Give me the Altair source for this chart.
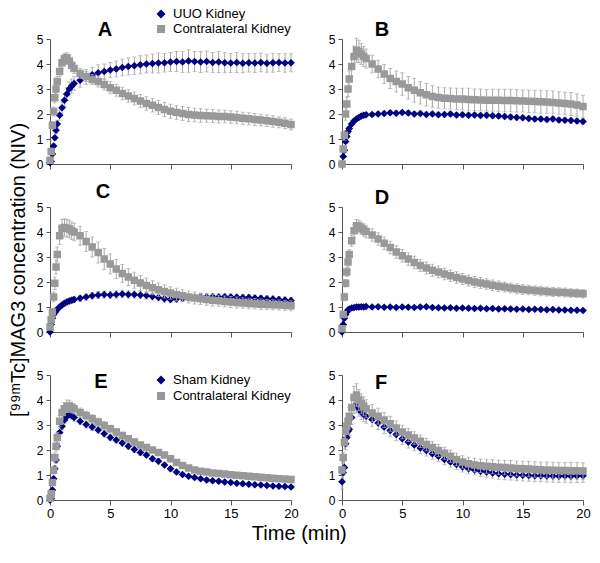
import altair as alt
import pandas as pd

# ---------------- data ----------------
TIME = [0, 0.1, 0.2, 0.3, 0.4, 0.5, 0.6, 0.8, 1.0, 1.2, 1.4, 1.6, 1.8, 2.0,
        2.5, 3.0, 3.5, 4.0, 4.5, 5.0, 5.5, 6.0, 6.5, 7.0, 7.5, 8.0, 8.5, 9.0,
        9.5, 10.0, 10.5, 11.0, 11.5, 12.0, 12.5, 13.0, 13.5, 14.0, 14.5, 15.0,
        15.5, 16.0, 16.5, 17.0, 17.5, 18.0, 18.5, 19.0, 19.5, 20.0]

A_UUO = [0.05, 0.1, 0.4, 0.72, 1.05, 1.35, 1.6, 1.95, 2.25, 2.55, 2.8, 3.0, 3.12, 3.22,
         3.35, 3.48, 3.57, 3.65, 3.7, 3.76, 3.8, 3.86, 3.9, 3.93, 3.97, 4.0, 4.02, 4.04,
         4.05, 4.08, 4.1, 4.08, 4.12, 4.1, 4.08, 4.1, 4.06, 4.08, 4.05, 4.04, 4.06, 4.03,
         4.05, 4.04, 4.06, 4.03, 4.05, 4.06, 4.04, 4.05]
A_UUO_ERR = [0.02, 0.03, 0.05, 0.08, 0.1, 0.12, 0.15, 0.2, 0.22, 0.25, 0.26, 0.28, 0.28, 0.28,
             0.28, 0.3, 0.3, 0.32, 0.3, 0.3, 0.32, 0.33, 0.34, 0.35, 0.36, 0.36, 0.38, 0.4,
             0.37, 0.38, 0.4, 0.42, 0.45, 0.4, 0.42, 0.42, 0.4, 0.42, 0.4, 0.38, 0.4, 0.38,
             0.37, 0.38, 0.37, 0.36, 0.38, 0.36, 0.37, 0.36]
A_CONTRA = [0.15, 0.5, 1.55, 2.1, 2.65, 3.0, 3.3, 3.7, 4.05, 4.22, 4.25, 4.12, 3.95, 3.82,
            3.62, 3.5, 3.38, 3.3, 3.18, 3.05, 2.95, 2.82, 2.72, 2.62, 2.52, 2.42, 2.35, 2.26,
            2.18, 2.11, 2.06, 2.02, 1.98, 1.96, 1.94, 1.93, 1.92, 1.9, 1.9, 1.88, 1.86, 1.83,
            1.81, 1.78, 1.76, 1.73, 1.7, 1.67, 1.63, 1.58]
A_CONTRA_ERR = [0.05, 0.1, 0.15, 0.18, 0.2, 0.2, 0.2, 0.2, 0.2, 0.2, 0.2, 0.2, 0.2, 0.2,
                0.2, 0.2, 0.2, 0.22, 0.22, 0.24, 0.24, 0.25, 0.25, 0.26, 0.26, 0.27, 0.27, 0.28,
                0.28, 0.28, 0.27, 0.28, 0.28, 0.27, 0.27, 0.26, 0.26, 0.26, 0.25, 0.25, 0.25, 0.24,
                0.24, 0.24, 0.23, 0.23, 0.23, 0.22, 0.22, 0.22]

B_UUO = [0.0, 0.3, 0.55, 0.9, 1.1, 1.3, 1.42, 1.6, 1.72, 1.8, 1.86, 1.92, 1.95, 1.97,
         1.98, 2.0, 2.02, 2.05, 2.03, 2.06, 2.04, 2.0, 2.02, 1.98, 2.0, 1.97, 1.98, 2.0,
         1.96, 1.97, 1.95, 1.96, 1.94, 1.95, 1.93, 1.92, 1.9, 1.88, 1.86, 1.85, 1.82, 1.8,
         1.8, 1.78, 1.8, 1.76, 1.75, 1.74, 1.72, 1.7]
B_UUO_ERR = [0.02, 0.04, 0.06, 0.08, 0.08, 0.08, 0.08, 0.08, 0.08, 0.08, 0.08, 0.08, 0.08, 0.08,
             0.08, 0.09, 0.08, 0.09, 0.1, 0.09, 0.1, 0.09, 0.1, 0.1, 0.09, 0.1, 0.1, 0.09,
             0.1, 0.1, 0.1, 0.09, 0.1, 0.1, 0.1, 0.1, 0.09, 0.1, 0.1, 0.1, 0.1, 0.1,
             0.09, 0.1, 0.1, 0.1, 0.1, 0.1, 0.1, 0.1]
B_CONTRA = [0.0, 0.6, 1.15, 2.0, 2.4, 3.0, 3.4, 3.9, 4.3, 4.55, 4.5, 4.4, 4.3, 4.22,
            4.0, 3.8, 3.6, 3.42, 3.3, 3.2, 3.05, 2.95, 2.85, 2.77, 2.7, 2.66, 2.63, 2.62,
            2.6, 2.6, 2.58, 2.57, 2.56, 2.55, 2.55, 2.55, 2.54, 2.54, 2.53, 2.52, 2.51, 2.5,
            2.49, 2.48, 2.46, 2.44, 2.42, 2.4, 2.36, 2.3]
B_CONTRA_ERR = [0.02, 0.12, 0.2, 0.25, 0.28, 0.3, 0.32, 0.38, 0.42, 0.48, 0.45, 0.42, 0.4, 0.38,
                0.35, 0.35, 0.38, 0.4, 0.42, 0.45, 0.45, 0.48, 0.45, 0.45, 0.43, 0.42, 0.42, 0.42,
                0.43, 0.43, 0.45, 0.43, 0.44, 0.43, 0.44, 0.44, 0.45, 0.45, 0.45, 0.44, 0.45, 0.45,
                0.46, 0.45, 0.46, 0.45, 0.45, 0.46, 0.45, 0.45]

C_UUO = [0.0, 0.3, 0.55, 0.7, 0.78, 0.85, 0.9, 1.0, 1.08, 1.15, 1.2, 1.24, 1.27, 1.3,
         1.35, 1.4, 1.45, 1.48, 1.5, 1.48, 1.5, 1.52, 1.5, 1.5, 1.48, 1.46, 1.42, 1.38,
         1.33, 1.3, 1.32, 1.35, 1.37, 1.38, 1.4, 1.4, 1.41, 1.4, 1.41, 1.4, 1.39, 1.38,
         1.38, 1.36, 1.35, 1.33, 1.32, 1.3, 1.28, 1.26]
C_UUO_ERR = [0.02, 0.05, 0.08, 0.1, 0.1, 0.1, 0.1, 0.1, 0.12, 0.12, 0.12, 0.12, 0.12, 0.12,
             0.12, 0.13, 0.13, 0.14, 0.14, 0.14, 0.15, 0.15, 0.15, 0.15, 0.15, 0.15, 0.14, 0.14,
             0.14, 0.13, 0.13, 0.13, 0.13, 0.13, 0.13, 0.13, 0.13, 0.13, 0.12, 0.12, 0.12, 0.12,
             0.12, 0.12, 0.12, 0.12, 0.12, 0.12, 0.12, 0.12]
C_CONTRA = [0.2, 0.5, 0.8, 1.4, 1.95, 2.6, 3.1, 3.85, 4.15, 4.18, 4.15, 4.12, 4.05, 4.0,
            3.85, 3.62, 3.4, 3.18, 2.92, 2.72, 2.52, 2.34, 2.2, 2.07, 1.96, 1.86, 1.77, 1.69,
            1.62, 1.56, 1.5, 1.45, 1.4, 1.36, 1.33, 1.3, 1.27, 1.25, 1.22, 1.2, 1.18, 1.16,
            1.14, 1.13, 1.11, 1.1, 1.09, 1.08, 1.07, 1.05]
C_CONTRA_ERR = [0.05, 0.1, 0.15, 0.2, 0.25, 0.28, 0.3, 0.35, 0.35, 0.35, 0.35, 0.35, 0.35, 0.35,
                0.38, 0.4, 0.4, 0.42, 0.42, 0.4, 0.38, 0.36, 0.34, 0.32, 0.3, 0.3, 0.28, 0.27,
                0.26, 0.25, 0.25, 0.24, 0.24, 0.24, 0.23, 0.23, 0.23, 0.22, 0.22, 0.22, 0.22, 0.21,
                0.21, 0.21, 0.21, 0.2, 0.2, 0.2, 0.2, 0.2]

D_UUO = [0.0, 0.3, 0.55, 0.7, 0.8, 0.88, 0.92, 0.96, 0.98, 1.0, 1.0, 1.01, 1.0, 1.02,
         1.0, 1.01, 0.99, 1.0, 0.98, 1.0, 0.99, 0.98, 1.0, 1.01, 0.98, 0.97, 0.96, 0.97,
         0.95, 0.96, 0.95, 0.94, 0.95, 0.93, 0.94, 0.92, 0.93, 0.92, 0.91, 0.92, 0.9, 0.91,
         0.9, 0.89, 0.9, 0.88, 0.88, 0.87, 0.87, 0.86]
D_UUO_ERR = [0.02, 0.04, 0.05, 0.05, 0.05, 0.05, 0.05, 0.05, 0.05, 0.05, 0.05, 0.05, 0.05, 0.05,
             0.05, 0.05, 0.06, 0.05, 0.06, 0.05, 0.06, 0.05, 0.06, 0.05, 0.06, 0.05, 0.06, 0.05,
             0.06, 0.05, 0.06, 0.05, 0.06, 0.05, 0.06, 0.05, 0.06, 0.05, 0.06, 0.05, 0.06, 0.05,
             0.06, 0.05, 0.06, 0.05, 0.06, 0.05, 0.06, 0.05]
D_CONTRA = [0.13, 0.7, 1.4, 1.95, 2.4, 2.8, 3.1, 3.65, 4.05, 4.25, 4.22, 4.15, 4.08, 4.02,
            3.88, 3.72, 3.55, 3.38, 3.2, 3.05, 2.92, 2.78, 2.66, 2.56, 2.47, 2.4, 2.32, 2.25,
            2.18, 2.12, 2.06, 2.0, 1.96, 1.92, 1.87, 1.83, 1.8, 1.76, 1.73, 1.7, 1.68, 1.66,
            1.64, 1.62, 1.6, 1.59, 1.58, 1.56, 1.55, 1.53]
D_CONTRA_ERR = [0.05, 0.1, 0.15, 0.15, 0.18, 0.2, 0.2, 0.22, 0.25, 0.25, 0.25, 0.25, 0.25, 0.25,
                0.25, 0.25, 0.25, 0.25, 0.25, 0.25, 0.25, 0.25, 0.24, 0.24, 0.24, 0.24, 0.23, 0.23,
                0.23, 0.22, 0.22, 0.22, 0.22, 0.21, 0.21, 0.21, 0.2, 0.2, 0.2, 0.2, 0.19, 0.19,
                0.19, 0.18, 0.18, 0.18, 0.18, 0.17, 0.17, 0.17]

E_SHAM = [0.0, 0.05, 0.4, 0.85, 1.25, 1.6, 2.15, 2.7, 2.95, 3.2, 3.35, 3.42, 3.38, 3.3,
          3.15, 3.02, 2.92, 2.8, 2.65, 2.5, 2.4, 2.28, 2.15, 2.02, 1.9, 1.8, 1.65, 1.55,
          1.4, 1.25, 1.12, 1.02, 0.95, 0.9, 0.85, 0.8, 0.77, 0.75, 0.72, 0.7, 0.67, 0.65,
          0.63, 0.61, 0.6, 0.58, 0.56, 0.55, 0.54, 0.52]
E_SHAM_ERR = [0.02, 0.05, 0.08, 0.1, 0.12, 0.12, 0.14, 0.15, 0.15, 0.15, 0.15, 0.15, 0.15, 0.15,
              0.14, 0.14, 0.14, 0.13, 0.13, 0.13, 0.13, 0.12, 0.12, 0.12, 0.12, 0.11, 0.11, 0.11,
              0.1, 0.1, 0.1, 0.09, 0.09, 0.09, 0.08, 0.08, 0.08, 0.08, 0.08, 0.07, 0.07, 0.07,
              0.07, 0.07, 0.07, 0.06, 0.06, 0.06, 0.06, 0.06]
E_CONTRA = [0.07, 0.25, 0.7, 1.19, 1.7, 2.15, 2.5, 3.15, 3.5, 3.65, 3.75, 3.75, 3.7, 3.65,
            3.5, 3.38, 3.25, 3.12, 2.98, 2.85, 2.72, 2.58, 2.45, 2.32, 2.2, 2.1, 2.0, 1.9,
            1.8, 1.65, 1.5, 1.38, 1.28, 1.2, 1.15, 1.12, 1.08, 1.06, 1.04, 1.01, 0.99, 0.97,
            0.95, 0.93, 0.91, 0.89, 0.87, 0.85, 0.84, 0.82]
E_CONTRA_ERR = [0.03, 0.08, 0.12, 0.15, 0.18, 0.2, 0.2, 0.22, 0.25, 0.25, 0.25, 0.24, 0.22, 0.2,
                0.18, 0.17, 0.16, 0.15, 0.15, 0.14, 0.14, 0.13, 0.13, 0.12, 0.12, 0.12, 0.11, 0.11,
                0.11, 0.1, 0.1, 0.1, 0.09, 0.09, 0.09, 0.09, 0.08, 0.08, 0.08, 0.08, 0.08, 0.08,
                0.08, 0.07, 0.07, 0.07, 0.07, 0.07, 0.07, 0.07]

F_SHAM = [0.73, 1.1, 1.3, 2.25, 2.5, 2.75, 2.83, 3.3, 3.75, 3.78, 3.65, 3.52, 3.42, 3.35,
          3.22, 3.08, 2.92, 2.78, 2.62, 2.45, 2.32, 2.2, 2.08, 1.98, 1.85, 1.75, 1.62, 1.52,
          1.42, 1.32, 1.25, 1.2, 1.15, 1.12, 1.08, 1.05, 1.03, 1.02, 1.0, 0.99, 0.98, 0.97,
          0.97, 0.96, 0.96, 0.95, 0.96, 0.95, 0.96, 0.97]
F_SHAM_ERR = [0.3, 0.35, 0.3, 0.25, 0.25, 0.25, 0.25, 0.28, 0.3, 0.3, 0.3, 0.3, 0.28, 0.28,
              0.27, 0.26, 0.26, 0.25, 0.25, 0.24, 0.24, 0.23, 0.23, 0.22, 0.22, 0.22, 0.21, 0.21,
              0.2, 0.2, 0.2, 0.2, 0.2, 0.21, 0.21, 0.22, 0.22, 0.22, 0.23, 0.23, 0.23, 0.24,
              0.24, 0.24, 0.25, 0.25, 0.25, 0.26, 0.26, 0.26]
F_CONTRA = [1.2, 1.7, 2.3, 2.75, 2.95, 3.15, 3.35, 3.7, 4.1, 4.2, 4.0, 3.85, 3.75, 3.65,
            3.48, 3.35, 3.2, 3.05, 2.88, 2.72, 2.6, 2.48, 2.35, 2.22, 2.1, 1.98, 1.87, 1.75,
            1.62, 1.52, 1.45, 1.4, 1.37, 1.35, 1.33, 1.31, 1.3, 1.28, 1.26, 1.25, 1.24, 1.22,
            1.21, 1.2, 1.19, 1.18, 1.18, 1.17, 1.17, 1.16]
F_CONTRA_ERR = [0.15, 0.2, 0.25, 0.3, 0.3, 0.32, 0.35, 0.4, 0.45, 0.45, 0.42, 0.4, 0.38, 0.36,
                0.34, 0.32, 0.3, 0.3, 0.28, 0.27, 0.26, 0.25, 0.25, 0.25, 0.24, 0.24, 0.24, 0.24,
                0.25, 0.25, 0.26, 0.27, 0.27, 0.28, 0.28, 0.29, 0.29, 0.3, 0.3, 0.3, 0.31, 0.31,
                0.31, 0.32, 0.32, 0.32, 0.32, 0.33, 0.33, 0.33]

X_TICKS = [0, 5, 10, 15, 20]
Y_TICKS = [0, 1, 2, 3, 4, 5]
Y_TITLE = "[⁹⁹ᵐTc]MAG3 concentration (NIV)"
X_TITLE = "Time (min)"

# ---------------- style ----------------
BLUE = "#000080"
GRAY = "#999999"
ERRC = "#a8a8a8"
AXC = "#555555"
FONT = "Liberation Sans"
W, H = 241, 125


def xenc(show_labels):
    return alt.X("t:Q", scale=alt.Scale(domain=[0, 20], nice=False, zero=False),
                 axis=alt.Axis(values=X_TICKS, labels=show_labels, title=None, tickSize=5,
                               grid=False, labelFlush=False, labelPadding=2,
                               labelFontSize=13))


def yenc(field, title):
    ax = dict(values=Y_TICKS, tickSize=4, grid=False, labelPadding=3, labelFontSize=12)
    if title:
        ax.update(title=title, titlePadding=8, titleFontSize=20, titleFontWeight="normal")
    else:
        ax.update(title=None)
    return alt.Y(f"{field}:Q", scale=alt.Scale(domain=[0, 5], nice=False), axis=alt.Axis(**ax))


ONE = pd.DataFrame({"k": [0]})


def panel(blue, blue_err, gray, gray_err, letter, lpos, legend=None, lgpos=None,
          xlabels=False, ytitle=None):
    def frame(vals, errs):
        return pd.DataFrame({"t": TIME, "v": vals,
                             "lo": [v - e for v, e in zip(vals, errs)],
                             "hi": [v + e for v, e in zip(vals, errs)]})

    db, dg = frame(blue, blue_err), frame(gray, gray_err)
    X = xenc(xlabels)
    layers = []
    for d, kind in ((db, "blue"), (dg, "gray")):
        base = alt.Chart(d)
        layers.append(base.mark_rule(color=ERRC, strokeWidth=1).encode(
            x=X, y=yenc("lo", ytitle), y2="hi:Q"))
        for f in ("hi", "lo"):
            layers.append(base.mark_tick(color=ERRC, orient="horizontal", size=4,
                                         thickness=1).encode(x=X, y=yenc(f, ytitle)))
        if kind == "blue":
            layers.append(base.mark_point(shape="diamond", filled=True, size=60,
                                          color=BLUE, opacity=1).encode(
                x=X, y=yenc("v", ytitle)))
        else:
            layers.append(base.mark_square(size=56, color=GRAY, opacity=1).encode(
                x=X, y=yenc("v", ytitle)))
    layers.append(alt.Chart(ONE).mark_text(text=letter, fontSize=20, fontWeight="bold",
                                           font=FONT, align="center", baseline="middle",
                                           color="#000").encode(
        x=alt.value(lpos[0]), y=alt.value(lpos[1])))
    if legend:
        lx, ly1, ly2 = lgpos
        layers.append(alt.Chart(ONE).mark_point(shape="diamond", filled=True, size=80,
                                                color=BLUE, opacity=1).encode(
            x=alt.value(lx), y=alt.value(ly1)))
        layers.append(alt.Chart(ONE).mark_square(size=64, color=GRAY, opacity=1).encode(
            x=alt.value(lx), y=alt.value(ly2)))
        for txt, yy in zip(legend, (ly1, ly2)):
            layers.append(alt.Chart(ONE).mark_text(text=txt, fontSize=13, font=FONT,
                                                   align="left", baseline="middle",
                                                   color="#000").encode(
                x=alt.value(lx + 12), y=alt.value(yy)))
    return alt.layer(*layers).properties(width=W, height=H)


pA = panel(A_UUO, A_UUO_ERR, A_CONTRA, A_CONTRA_ERR, "A", (55, -9),
           legend=["UUO Kidney", "Contralateral Kidney"], lgpos=(111, -25, -10))
pB = panel(B_UUO, B_UUO_ERR, B_CONTRA, B_CONTRA_ERR, "B", (40, -9))
pC = panel(C_UUO, C_UUO_ERR, C_CONTRA, C_CONTRA_ERR, "C", (53, -15), ytitle=Y_TITLE)
pD = panel(D_UUO, D_UUO_ERR, D_CONTRA, D_CONTRA_ERR, "D", (40, -9))
pE = panel(E_SHAM, E_SHAM_ERR, E_CONTRA, E_CONTRA_ERR, "E", (51, 7),
           legend=["Sham Kidney", "Contralateral Kidney"], lgpos=(111, 5, 21), xlabels=True)
pF = panel(F_SHAM, F_SHAM_ERR, F_CONTRA, F_CONTRA_ERR, "F", (39, 8), xlabels=True)

chart = alt.concat(pA, pB, pC, pD, pE, pF, columns=2,
                   spacing={"row": 43, "column": 51}, bounds="flush").properties(
    title=alt.TitleParams(X_TITLE, orient="bottom", anchor="middle", frame="bounds",
                          fontSize=20, fontWeight="normal", font=FONT, color="#000",
                          offset=4),
    padding={"left": 0, "top": 0, "right": 0, "bottom": 0},
).configure(font=FONT).configure_view(stroke=None).configure_axis(
    domainColor=AXC, tickColor=AXC, labelColor="#000", labelFont=FONT, titleFont=FONT,
    titleColor="#000", domainWidth=1, tickWidth=1,
)

chart.save("out.html", embed_options={"renderer": "svg", "actions": False})
